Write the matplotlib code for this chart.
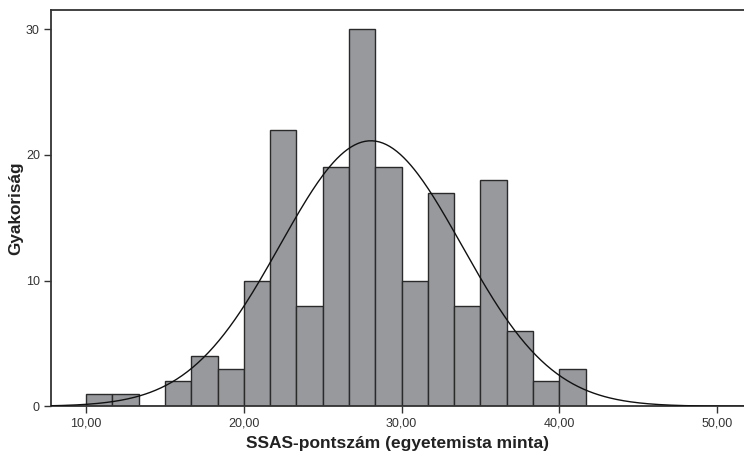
import numpy as np
import matplotlib
matplotlib.use("Agg")
import matplotlib.pyplot as plt

plt.rcParams['font.family'] = ['Liberation Sans', 'DejaVu Sans']

# bin edges (width 5/3) and counts per bin
bin_start = 10.0
bin_width = 5.0 / 3.0
counts = [1, 1, 0, 2, 4, 3, 10, 22, 8, 19, 30, 19, 10, 17, 8, 18, 6, 2, 3]

# fitted normal curve parameters
mean_score = 28.05
sd_score = 5.76

xticks = [10, 20, 30, 40, 50]
xtick_labels = ["10,00", "20,00", "30,00", "40,00", "50,00"]
yticks = [0, 10, 20, 30]

n = sum(counts)
edges = bin_start + bin_width * np.arange(len(counts) + 1)

fig = plt.figure(figsize=(7.44, 4.55), dpi=100)
ax = fig.add_axes([51 / 744, 1 - 406.3 / 455, 1 - 51 / 744, (406.3 - 10) / 455])

ax.bar(edges[:-1], counts, width=bin_width, align='edge',
       color='#98999d', edgecolor='#2a2a2a', linewidth=1.0, zorder=2)

xs = np.linspace(7.5, 52, 400)
ys = n * bin_width / (sd_score * np.sqrt(2 * np.pi)) * np.exp(-0.5 * ((xs - mean_score) / sd_score) ** 2)
ax.plot(xs, ys, color='#111111', linewidth=1.0, zorder=3)

ax.set_xlim(7.78, 51.7)
ax.set_ylim(0, 31.53)

ax.set_xticks(xticks)
ax.set_xticklabels(xtick_labels)
ax.set_yticks(yticks)
ax.tick_params(axis='both', direction='out', length=5, width=1, color='#333333',
               labelsize=9, labelcolor='#333333', pad=3)

for s in ['left', 'top', 'bottom']:
    ax.spines[s].set_color('#333333')
    ax.spines[s].set_linewidth(1.3)
ax.spines['right'].set_visible(False)

ax.set_xlabel("SSAS-pontszám (egyetemista minta)", fontsize=12.5, fontweight='bold',
              color='#222222', labelpad=5)
ax.set_ylabel("Gyakoriság", fontsize=12.3, fontweight='bold', color='#222222', labelpad=2)

fig.savefig("out.png", dpi=100)
